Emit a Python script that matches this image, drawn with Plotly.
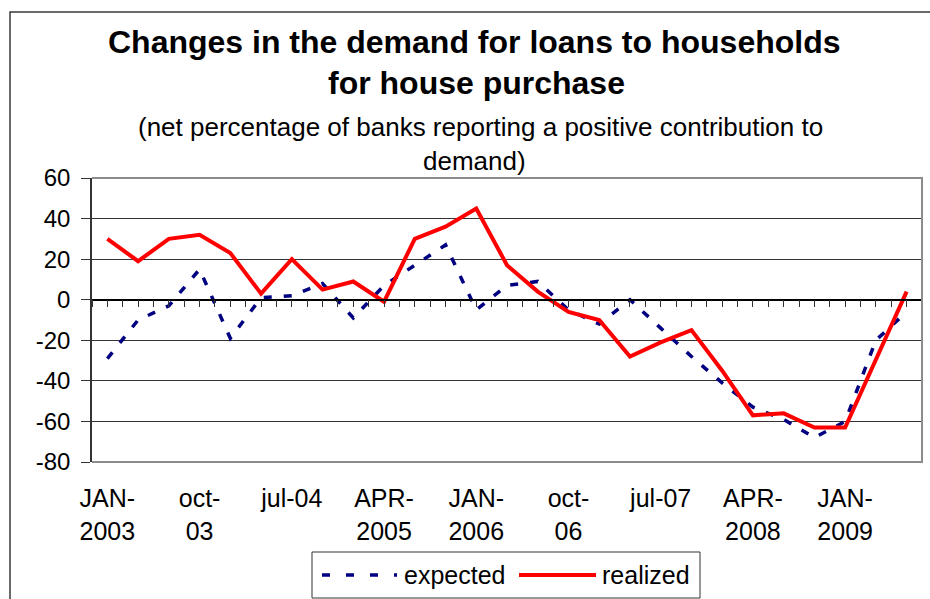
import plotly.graph_objects as go

# Quarterly survey rounds, 2003 Q1 to 2009 Q3
quarters = [
    "2003-Q1", "2003-Q2", "2003-Q3", "2003-Q4",
    "2004-Q1", "2004-Q2", "2004-Q3", "2004-Q4",
    "2005-Q1", "2005-Q2", "2005-Q3", "2005-Q4",
    "2006-Q1", "2006-Q2", "2006-Q3", "2006-Q4",
    "2007-Q1", "2007-Q2", "2007-Q3", "2007-Q4",
    "2008-Q1", "2008-Q2", "2008-Q3", "2008-Q4",
    "2009-Q1", "2009-Q2", "2009-Q3",
]

# Net percentage of banks reporting a positive contribution to demand
expected = [-29, -10, -3, 15, -19, 1, 2, 8, -9, 7, 17, 27, -5, 7,
            9, -5, -12, 0, -14, -28, -41, -53, -59, -68, -60, -20, -6]
realized = [30, 19, 30, 32, 23, 3, 20, 5, 9, -1, 30, 36, 45, 17,
            4, -6, -10, -28, -21, -15, -35, -57, -56, -63, -63, -30, 4]

# Category labels shown on every third quarter
tick_text = ["JAN-<br>2003", "oct-<br>03", "jul-04", "APR-<br>2005",
             "JAN-<br>2006", "oct-<br>06", "jul-07", "APR-<br>2008",
             "JAN-<br>2009"]
label_step = 3

# Value axis ticks (plain hyphen for negatives)
y_ticks = [60, 40, 20, 0, -20, -40, -60, -80]
y_tick_text = ["60", "40", "20", "0", "-20", "-40", "-60", "-80"]

series_names = ["expected", "realized"]

FONT = "Liberation Sans, Arial, sans-serif"
NAVY = "#000080"
RED = "#FF0000"

x = list(range(len(quarters)))
tick_vals = x[::label_step][: len(tick_text)]
y_min, y_max = min(y_ticks), max(y_ticks)

fig = go.Figure()

fig.add_trace(go.Scatter(
    x=x, y=expected, name=series_names[0], mode="lines",
    line=dict(color=NAVY, width=3.5, dash="8px,12px"),
    hoverinfo="skip",
))
fig.add_trace(go.Scatter(
    x=x, y=realized, name=series_names[1], mode="lines",
    line=dict(color=RED, width=4),
    hoverinfo="skip",
))
# carrier trace so the zero-crossing category axis is drawn
fig.add_trace(go.Scatter(
    x=x, y=realized, xaxis="x2", mode="lines",
    line=dict(width=0), opacity=0, hoverinfo="skip", showlegend=False,
))

zero_pos = (0 - y_min) / (y_max - y_min)

# plot area in pixels: left 92, right 922, top 178, bottom 462
L, R, T, B = 92, 922, 178, 462


def px(xp):
    return (xp - L) / (R - L)


def py(yp):
    return (B - yp) / (B - T)


shapes = [
    # plot area frame (top, right, bottom)
    dict(type="path", xref="paper", yref="paper",
         path="M 0 0 L 1 0 L 1 1 L 0 1",
         line=dict(color="#8c8c8c", width=2), layer="above"),
    # chart frame
    dict(type="rect", xref="paper", yref="paper",
         x0=px(10), x1=px(940), y0=py(12), y1=py(610),
         line=dict(color="#3a3a3a", width=1.5), layer="below"),
    # legend box
    dict(type="rect", xref="paper", yref="paper",
         x0=px(312), x1=px(700), y0=py(552), y1=py(598),
         line=dict(color="#333333", width=1), fillcolor="white"),
    dict(type="line", xref="paper", yref="paper",
         x0=px(322), x1=px(397), y0=py(575), y1=py(575),
         line=dict(color=NAVY, width=3.5, dash="8px,16px")),
    dict(type="line", xref="paper", yref="paper",
         x0=px(519), x1=px(596), y0=py(575), y1=py(575),
         line=dict(color=RED, width=4)),
]

annotations = [
    dict(text="<b>Changes in the demand for loans to households</b>",
         x=px(474), y=py(42), font=dict(size=32)),
    dict(text="<b>for house purchase</b>", x=px(476), y=py(83),
         font=dict(size=32)),
    dict(text="(net percentage of banks reporting a positive contribution to",
         x=px(480), y=py(127), font=dict(size=26)),
    dict(text="demand)", x=px(474), y=py(161), font=dict(size=26)),
    dict(text=series_names[0], x=px(402), y=py(575), xanchor="left",
         font=dict(size=25)),
    dict(text=series_names[1], x=px(600), y=py(575), xanchor="left",
         font=dict(size=25)),
]
for a in annotations:
    a.setdefault("xanchor", "center")
    a.update(xref="paper", yref="paper", yanchor="middle", showarrow=False)
    a["font"].update(family=FONT, color="black")

fig.update_layout(
    width=930, height=599,
    margin=dict(l=L, r=930 - R, t=T, b=599 - B, pad=0),
    paper_bgcolor="white", plot_bgcolor="white",
    showlegend=False,
    font=dict(family=FONT, color="black", size=24),
    xaxis=dict(
        range=[-0.5, len(x) - 0.5], tickmode="array",
        tickvals=tick_vals, ticktext=tick_text,
        ticks="", showgrid=False, zeroline=False, showline=False,
        tickfont=dict(size=25, family=FONT, color="black"),
        ticklabelstandoff=19,
    ),
    xaxis2=dict(
        overlaying="x", anchor="free", position=zero_pos, side="bottom",
        range=[-0.5, len(x) - 0.5], tickmode="linear",
        tick0=-0.5, dtick=0.5, ticks="outside", ticklen=7,
        tickwidth=1, tickcolor="#333333",
        showticklabels=False, showgrid=False, zeroline=False,
        showline=True, linecolor="black", linewidth=1.5,
    ),
    yaxis=dict(
        range=[y_min, y_max], tickmode="array",
        tickvals=y_ticks, ticktext=y_tick_text,
        ticks="outside", ticklen=9, tickcolor="#333333", tickwidth=1,
        showline=True, linecolor="#333333", linewidth=1.5,
        showgrid=True, gridcolor="#333333", gridwidth=1,
        zeroline=False,
        tickfont=dict(size=24, family=FONT, color="black"),
        ticklabelstandoff=6,
    ),
    shapes=shapes,
    annotations=annotations,
)

fig.write_html("out.html")
